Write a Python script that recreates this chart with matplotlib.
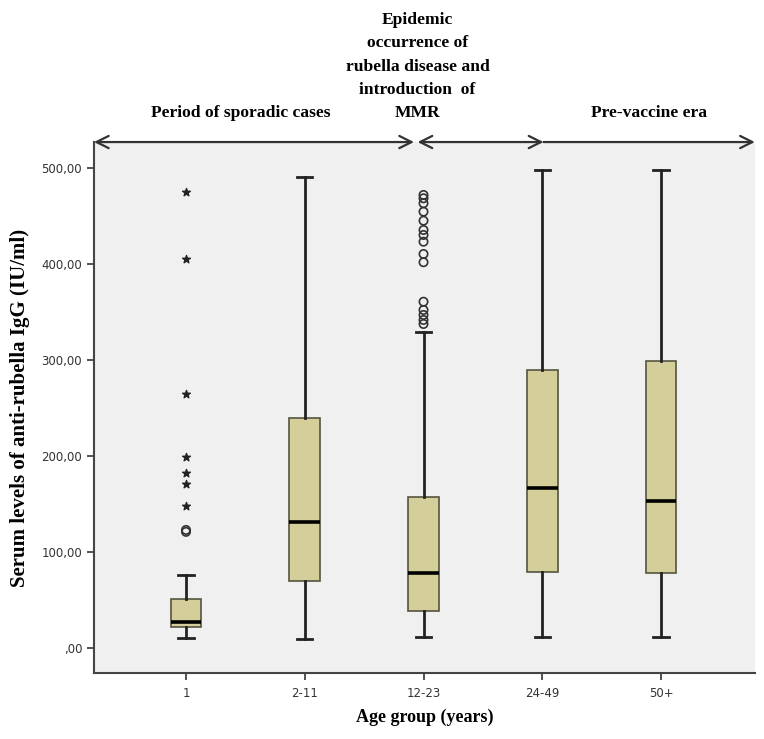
import numpy as np
import matplotlib.pyplot as plt
from matplotlib.patches import FancyArrowPatch

# age groups and box statistics
groups = ['1', '2-11', '12-23', '24-49', '50+']
whislo = [10.7, 9.4, 11.1, 11.8, 11.1]
q1 = [21.6, 70.0, 38.5, 79.5, 77.8]
med = [26.8, 131.0, 77.8, 166.3, 153.0]
q3 = [51.0, 240.0, 157.6, 289.6, 299.0]
whishi = [76.0, 491.0, 329.5, 498.0, 498.0]

# outliers (circles) and extremes (stars)
circ_grp = [0, 0] + [2] * 15
circ_val = [121.0, 123.0,
            471.9, 468.4, 463.2, 454.5, 445.1, 435.4, 430.2, 423.2, 410.4, 401.8,
            360.7, 352.1, 346.9, 341.7, 337.5]
star_grp = [0, 0, 0, 0, 0, 0, 0]
star_val = [475.3, 405.0, 264.3, 199.3, 182.6, 170.5, 148.2]

yticks = [0, 100, 200, 300, 400, 500]
ytick_labels = [',00', '100,00', '200,00', '300,00', '400,00', '500,00']

periods = ['Period of sporadic cases',
           'Epidemic\noccurrence of\nrubella disease and\nintroduction  of\nMMR',
           'Pre-vaccine era']

serif = 'Liberation Serif'

fig = plt.figure(figsize=(7.64, 7.39), dpi=100)
ax = fig.add_axes([0.123, 0.0893, 0.865, 0.7185])
ax.set_facecolor('#f0f0f0')

stats = []
for i in range(len(groups)):
    stats.append({'whislo': whislo[i], 'q1': q1[i], 'med': med[i],
                  'q3': q3[i], 'whishi': whishi[i], 'fliers': []})

pos = np.arange(len(groups))
ax.bxp(stats, positions=pos, widths=0.26, patch_artist=True, showfliers=False,
       boxprops=dict(facecolor='#d4cf9a', edgecolor='#55553f', linewidth=1.2),
       medianprops=dict(color='black', linewidth=2.6),
       whiskerprops=dict(color='#222222', linewidth=2.0),
       capprops=dict(color='#222222', linewidth=2.0))

ax.scatter(circ_grp, circ_val, s=36, facecolors='none', edgecolors='#333333',
           linewidths=1.2, zorder=3)
ax.scatter(star_grp, star_val, s=34, marker='*', color='#222222', zorder=3)

ax.set_xlim(-0.775, 4.79)
ax.set_ylim(-26, 527)
ax.set_xticks(pos)
ax.set_xticklabels(groups, fontsize=8.5, color='#333333')
ax.set_yticks(yticks)
ax.set_yticklabels(ytick_labels, fontsize=8.5, color='#333333')
ax.tick_params(axis='both', direction='out', length=5, width=1.2, color='#333333')
ax.tick_params(axis='x', pad=5)
for s in ['top', 'right']:
    ax.spines[s].set_visible(False)
for s in ['left', 'bottom']:
    ax.spines[s].set_color('#444444')
    ax.spines[s].set_linewidth(1.5)

ax.set_xlabel('Age group (years)', fontsize=13, fontweight='bold', family=serif,
              labelpad=6)
ax.set_ylabel('Serum levels of anti-rubella IgG (IU/ml)', fontsize=15,
              fontweight='bold', family=serif, labelpad=8)

# period arrows along the top edge
ytop = 527
spans = [(-0.775, 1.92, '<->'), (1.95, 3.01, '<->'), (3.01, 4.79, '->')]
for x0, x1, st in spans:
    a = FancyArrowPatch((x0, ytop), (x1, ytop), arrowstyle=st,
                        mutation_scale=22, color='#333333', linewidth=1.6,
                        clip_on=False, shrinkA=0, shrinkB=0)
    ax.add_patch(a)

ax.text(0.46, 549, periods[0], ha='center', va='bottom', fontsize=12.6,
        fontweight='bold', family=serif, clip_on=False)
ax.text(1.95, 549, periods[1], ha='center', va='bottom', fontsize=12.6,
        fontweight='bold', family=serif, linespacing=1.6, clip_on=False)
ax.text(3.9, 549, periods[2], ha='center', va='bottom', fontsize=12.6,
        fontweight='bold', family=serif, clip_on=False)

fig.savefig('out.png', dpi=100)
